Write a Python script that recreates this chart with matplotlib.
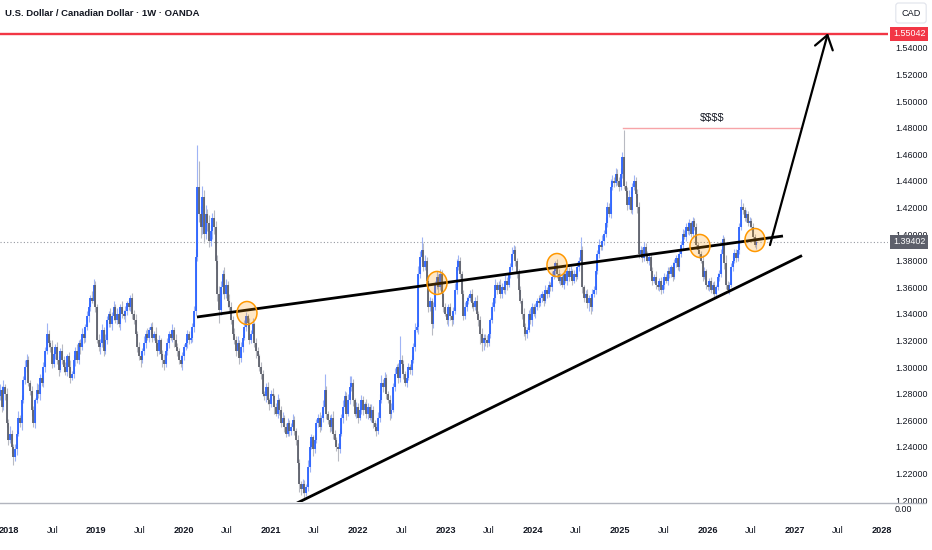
import numpy as np
import matplotlib
matplotlib.use("Agg")
import matplotlib.pyplot as plt
from matplotlib.patches import Ellipse
from matplotlib.lines import Line2D
import matplotlib.transforms as mtransforms

plt.rcParams['font.family'] = ['Liberation Sans', 'DejaVu Sans']

# ---------------- data ----------------
START_YEAR = 2017.897          # first weekly candle (fractional year)
FIRST_OPEN = 1.278
# weekly closes, price x 1000
CLOSE = [
    1283,1270,1285,1280,1258,1245,1250,1240,1232,1238,
    1250,1262,1258,1275,1290,1300,1305,1288,1282,1268,
    1258,1275,1283,1280,1292,1288,1300,1312,1325,1318,
    1315,1302,1310,1315,1305,1298,1312,1305,1300,1296,
    1308,1300,1292,1295,1305,1312,1305,1318,1315,1325,
    1322,1330,1338,1345,1352,1350,1362,1345,1320,1315,
    1318,1328,1312,1320,1335,1340,1332,1338,1345,1335,
    1340,1332,1345,1340,1338,1342,1348,1345,1352,1340,
    1335,1325,1315,1308,1305,1312,1318,1325,1322,1328,
    1330,1322,1325,1318,1312,1320,1310,1305,1302,1312,
    1318,1325,1322,1328,1320,1315,1312,1305,1302,1308,
    1315,1318,1325,1320,1322,1330,1342,1383,1435,1415,
    1405,1428,1400,1415,1408,1395,1402,1412,1405,1380,
    1355,1343,1360,1370,1355,1362,1350,1345,1335,1325,
    1320,1312,1318,1307,1315,1322,1330,1338,1333,1320,
    1325,1332,1318,1312,1308,1300,1295,1280,1278,1285,
    1275,1272,1280,1278,1270,1265,1275,1268,1258,1262,
    1255,1250,1258,1252,1255,1260,1252,1245,1228,1212,
    1208,1212,1205,1210,1225,1240,1247,1238,1245,1258,
    1262,1255,1262,1270,1283,1265,1260,1255,1262,1250,
    1245,1240,1238,1250,1262,1270,1278,1265,1275,1285,
    1288,1275,1265,1270,1262,1268,1275,1268,1272,1265,
    1270,1262,1268,1258,1255,1252,1262,1275,1288,1285,
    1292,1280,1275,1265,1268,1285,1295,1300,1292,1305,
    1302,1295,1288,1292,1300,1298,1305,1315,1328,1330,
    1370,1383,1388,1375,1380,1365,1345,1350,1332,1345,
    1362,1368,1360,1370,1355,1345,1340,1335,1345,1338,
    1335,1342,1358,1375,1380,1370,1355,1338,1345,1350,
    1352,1355,1348,1345,1350,1340,1335,1325,1318,1322,
    1320,1318,1325,1335,1345,1352,1362,1358,1362,1355,
    1360,1358,1365,1362,1370,1375,1385,1388,1380,1370,
    1358,1350,1340,1330,1325,1328,1340,1335,1345,1340,
    1345,1350,1348,1352,1355,1350,1358,1355,1362,1360,
    1368,1372,1378,1370,1365,1368,1362,1370,1365,1372,
    1368,1372,1365,1370,1368,1375,1380,1388,1360,1352,
    1355,1348,1352,1345,1355,1358,1372,1385,1392,1390,
    1395,1400,1408,1420,1415,1435,1440,1438,1445,1440,
    1435,1445,1458,1436,1432,1422,1428,1418,1435,1440,
    1430,1420,1385,1388,1382,1390,1385,1380,1383,1372,
    1365,1368,1362,1360,1365,1358,1362,1368,1365,1372,
    1370,1375,1368,1378,1382,1375,1385,1392,1400,1398,
    1405,1402,1408,1400,1410,1405,1392,1388,1385,1380,
    1368,1372,1362,1360,1365,1358,1362,1355,1360,1368,
    1370,1385,1396,1378,1362,1358,1362,1375,1380,1386,
    1382,1388,1405,1420,1418,1412,1415,1408,1410,1405,
    1398,1392,1394.02,
]
# upper / lower wick lengths beyond the body, price x 1000
UPPER_WICK = [
    4,3,5,2,4,3,6,3,2,4, 3,5,2,4,3,5,5,3,2,4, 3,2,5,4,3,2,4,3,8,3,
    2,5,3,2,4,3,2,5,3,4, 2,3,5,2,4,3,5,2,3,4, 3,2,4,3,2,5,4,3,2,5,
    3,4,2,5,3,2,4,3,5,2, 4,3,2,5,3,4,2,3,2,4, 3,5,2,4,3,2,5,3,4,2,
    3,4,2,5,3,4,2,3,5,2, 4,2,3,4,2,5,3,2,4,3, 2,4,3,2,5,3,4,6,32,20,
    6,8,5,7,4,6,5,4,6,5, 4,6,5,3,5,4,3,5,4,3, 4,3,5,2,4,3,5,3,2,4,
    3,5,2,4,3,2,4,3,2,3, 4,2,3,4,2,3,5,2,3,4, 2,3,4,2,3,5,3,2,4,3,
    2,4,3,2,5,4,3,2,4,3, 3,4,2,5,12,3,2,4,3,5, 3,2,3,4,3,5,4,3,5,8,
    5,3,2,4,3,2,4,3,2,4, 3,2,4,3,2,3,4,5,6,3, 4,3,2,4,5,3,4,2,3,18,
    4,3,2,4,3,2,4,3,5,4, 6,4,10,5,4,3,4,3,2,4, 3,4,2,4,3,2,3,4,2,3,
    4,3,5,6,4,3,2,3,4,3, 2,3,4,2,3,4,2,3,4,3, 3,4,3,2,4,3,4,2,3,4,
    3,2,4,3,2,3,5,4,3,2, 4,3,2,4,3,2,3,4,3,2, 3,2,4,3,2,3,4,2,3,2,
    4,3,2,3,4,3,2,3,4,3, 3,4,2,3,2,4,3,10,3,2, 3,4,2,3,4,3,5,3,4,2,
    4,3,5,4,3,6,4,3,5,4, 3,5,4,20,4,3,5,4,3,4, 3,4,4,3,2,4,3,2,3,2,
    3,2,4,3,2,3,2,3,2,3, 3,2,4,3,2,3,4,3,4,3, 3,4,3,2,3,2,3,2,3,2,
    4,3,2,3,2,3,2,3,2,3, 3,4,3,2,6,3,2,3,4,3, 3,4,3,6,3,2,3,2,3,2,
    3,2,3,
]
LOWER_WICK = [
    3,4,2,5,3,4,2,5,6,3, 4,2,3,5,2,3,4,2,3,5, 3,4,2,3,5,2,3,4,2,3,
    4,3,2,4,3,5,2,3,4,2, 3,5,4,2,3,4,2,3,5,2, 4,3,2,4,3,2,3,4,2,3,
    5,3,4,2,3,5,2,4,3,2, 3,2,4,3,2,4,3,2,3,4, 3,2,4,3,5,2,3,4,2,3,
    4,3,2,3,4,2,3,5,4,2, 3,4,2,3,5,2,4,3,2,4, 3,2,4,3,2,3,4,3,3,6,
    8,5,7,4,6,5,4,6,5,6, 5,10,4,5,4,3,5,4,3,4, 3,4,2,5,3,4,2,3,4,3,
    2,4,3,5,2,3,4,2,3,4, 3,4,2,3,5,2,3,4,3,2, 4,3,2,4,3,2,3,4,5,6,
    4,3,5,2,3,4,2,5,3,2, 3,4,2,3,2,4,3,4,3,4, 4,3,9,3,2,4,3,5,2,3,
    3,4,2,3,4,2,3,4,2,3, 4,2,3,4,3,4,2,3,2,4, 3,4,2,5,3,2,3,2,4,3,
    3,4,2,3,2,3,4,2,3,2, 5,3,4,3,2,3,4,3,8,3, 2,3,4,2,3,4,2,3,4,3,
    4,3,2,3,2,3,4,3,2,3, 3,2,4,3,2,3,4,8,6,5, 4,3,2,3,2,3,4,3,2,3,
    3,2,3,4,2,3,2,3,4,3, 3,2,4,7,5,3,2,3,4,2, 3,2,3,2,3,4,2,3,2,3,
    3,2,4,3,2,3,2,3,2,3, 3,2,3,2,3,2,3,2,4,3, 3,4,6,5,3,2,3,2,3,2,
    2,3,2,3,2,3,2,3,2,3, 3,2,3,2,3,4,3,2,3,2, 3,4,3,2,3,2,3,2,3,4,
    3,2,3,2,3,3,2,3,2,3, 3,2,3,2,3,2,3,2,3,2, 3,2,3,2,3,2,3,2,3,2,
    3,2,3,2,3,2,3,2,3,2, 3,2,3,4,3,2,3,2,3,2, 3,2,3,2,3,2,3,2,3,2,
    3,2,3,
]

YEAR_TICKS = list(range(2018, 2029))
PRICE_TICKS = [1.20, 1.22, 1.24, 1.26, 1.28, 1.30, 1.32, 1.34, 1.36, 1.38,
               1.40, 1.42, 1.44, 1.46, 1.48, 1.50, 1.52, 1.54]
TARGET_PRICE = 1.55042
LAST_PRICE = 1.39402
PEAK_PRICE = 1.4797

# drawings (year, price)
UPPER_TREND = [(2020.153, 1.3376), (2026.866, 1.3985)]
LOWER_TREND = [(2021.299, 1.1977), (2027.084, 1.3838)]
ARROW = [(2026.717, 1.3917), (2027.381, 1.5510)]
PEAK_LINE_X = [2025.033, 2027.061]
LABEL_TEXT_POS = (2026.053, 1.4873)
CIRCLES = [(2020.726, 1.3406), (2022.903, 1.3632), (2024.277, 1.3767),
           (2025.915, 1.3910), (2026.545, 1.3955)]

# ---------------- figure ----------------
W, H = 932, 550
fig = plt.figure(figsize=(W / 100, H / 100), dpi=100)
ax_left, ax_right, ax_top, ax_bot = 0, 888, 0, 502
ax = fig.add_axes([ax_left / W, 1 - ax_bot / H, (ax_right - ax_left) / W, (ax_bot - ax_top) / H])

n = min(len(CLOSE), len(UPPER_WICK), len(LOWER_WICK))
t = START_YEAR + np.arange(n) * 7 / 365.25
c = np.array(CLOSE[:n], dtype=float) / 1000
o = np.r_[FIRST_OPEN, c[:-1]]
hi = np.maximum(o, c) + np.array(UPPER_WICK[:n]) / 1000
lo = np.minimum(o, c) - np.array(LOWER_WICK[:n]) / 1000
up = c >= o
dn = ~up

UP_BODY, UP_WICK = '#2962ff', '#9fb4f5'
DN_BODY, DN_WICK = '#5d606b', '#b8bac2'
ax.vlines(t[up], lo[up], hi[up], color=UP_WICK, lw=0.8, zorder=2)
ax.vlines(t[dn], lo[dn], hi[dn], color=DN_WICK, lw=0.8, zorder=2)
ax.vlines(t[up], o[up], c[up], color=UP_BODY, lw=1.3, zorder=2.1)
ax.vlines(t[dn], c[dn], o[dn], color=DN_BODY, lw=1.3, zorder=2.1)

ax.set_xlim(2017.897, 2028.069)
ax.set_ylim(1.1985, 1.57595)

# last price dotted line
ax.axhline(LAST_PRICE, color='#9598a1', lw=0.8, ls=(0, (1, 2)), zorder=1.5)
# target line
ax.axhline(TARGET_PRICE, color='#f23645', lw=1.7, zorder=4)
# peak line + label
ax.plot(PEAK_LINE_X, [PEAK_PRICE, PEAK_PRICE], color='#f7a4a8', lw=1.0, zorder=3)
ax.text(*LABEL_TEXT_POS, r'\$\$\$\$', ha='center', va='center', fontsize=8, color='#131722', zorder=5)

# trend lines
for seg in (UPPER_TREND, LOWER_TREND):
    ax.plot([seg[0][0], seg[1][0]], [seg[0][1], seg[1][1]], color='black', lw=2.0,
            solid_capstyle='butt', zorder=4)
ax.annotate('', xy=ARROW[1], xytext=ARROW[0],
            arrowprops=dict(arrowstyle='->,head_length=0.8,head_width=0.55', lw=1.6,
                            color='black', mutation_scale=12, shrinkA=0, shrinkB=0),
            zorder=4)

# circles
cw = 20 / 87.3
ch = 23 * 0.02 / 26.6
for (cx, cy) in CIRCLES:
    ax.add_patch(Ellipse((cx, cy), cw, ch, facecolor=(1.0, 0.6, 0.0, 0.22),
                         edgecolor='#ff9800', lw=1.1, zorder=5))

# axes styling
for s in ax.spines.values():
    s.set_visible(False)
ax.yaxis.tick_right()
ax.set_yticks(PRICE_TICKS)
ax.set_yticklabels([f'{v:.5f}' for v in PRICE_TICKS])
ax.tick_params(axis='y', length=0, pad=5, labelsize=6.4, labelcolor='#131722')

xt, xl = [], []
for y in YEAR_TICKS:
    xt.append(float(y)); xl.append(str(y))
    if y < YEAR_TICKS[-1]:
        xt.append(y + 0.496); xl.append('Jul')
ax.set_xticks(xt)
ax.set_xticklabels(xl)
ax.tick_params(axis='x', length=0, pad=17, labelsize=6.6, labelcolor='#131722')
for lab in ax.get_xticklabels():
    if lab.get_text() != 'Jul':
        lab.set_fontweight('bold')

# price label boxes on the right scale
blend = mtransforms.blended_transform_factory(ax.transAxes, ax.transData)
ax.text(1.0 + 5 / 888, TARGET_PRICE, f'{TARGET_PRICE:.5f}', transform=blend, ha='left', va='center',
        fontsize=6.4, color='white', clip_on=False, zorder=10,
        bbox=dict(boxstyle='square,pad=0.3', fc='#f23645', ec='none'))
ax.text(1.0 + 5 / 888, LAST_PRICE, f'{LAST_PRICE:.5f}', transform=blend, ha='left', va='center',
        fontsize=6.4, color='white', clip_on=False, zorder=10,
        bbox=dict(boxstyle='square,pad=0.3', fc='#5d606b', ec='none'))

# pane separator and lower pane label
fig.add_artist(Line2D([0, 925 / W], [1 - 502.5 / H, 1 - 502.5 / H], color='#b2b5be', lw=1.0))
fig.text(895 / W, 1 - 510 / H, '0.00', ha='left', va='center', fontsize=6.4, color='#131722')

# title and currency box
fig.text(5 / W, 1 - 13 / H, 'U.S. Dollar / Canadian Dollar · 1W · OANDA', ha='left', va='center',
         fontsize=6.8, fontweight='bold', color='#131722')
fig.text(911 / W, 1 - 13 / H, 'CAD', ha='center', va='center', fontsize=6.6, color='#131722',
         bbox=dict(boxstyle='round,pad=0.6,rounding_size=0.3', fc='white', ec='#e0e3eb', lw=0.8))

fig.savefig('out.png', dpi=100)
